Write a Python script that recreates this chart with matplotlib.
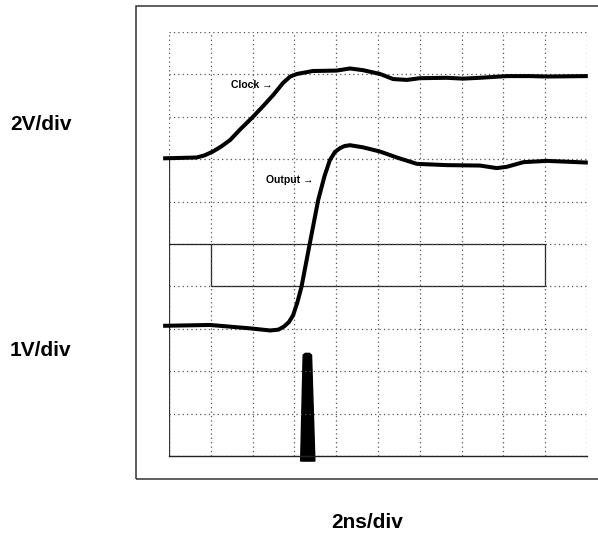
import matplotlib
matplotlib.use("Agg")
import matplotlib.pyplot as plt
from matplotlib.patches import Rectangle, Polygon

# traces, in divisions (10 x 10 graticule)
clock_x = [-0.14, 0.66, 0.85, 1.05, 1.25, 1.46, 1.70, 2.01, 2.25, 2.49, 2.73, 2.90, 3.06,
           3.44, 4.01, 4.33, 4.64, 5.05, 5.36, 5.69, 6.00, 6.64, 7.03, 7.44, 8.08, 8.64,
           9.04, 10.02]
clock_y = [7.02, 7.04, 7.09, 7.18, 7.30, 7.45, 7.70, 8.00, 8.25, 8.51, 8.80, 8.95, 9.01,
           9.08, 9.09, 9.14, 9.10, 9.01, 8.89, 8.87, 8.91, 8.92, 8.90, 8.92, 8.96, 8.96,
           8.95, 8.96]

output_x = [-0.14, 0.98, 1.94, 2.42, 2.62, 2.76, 2.87, 2.97, 3.07, 3.17, 3.37, 3.57,
            3.72, 3.85, 3.97, 4.09, 4.20, 4.33, 4.64, 5.05, 5.45, 5.93, 6.64, 7.44, 7.84,
            8.08, 8.48, 9.04, 10.02]
output_y = [3.07, 3.09, 3.01, 2.96, 2.98, 3.06, 3.16, 3.32, 3.62, 3.99, 5.02, 6.04,
            6.60, 6.98, 7.17, 7.26, 7.31, 7.33, 7.28, 7.18, 7.04, 6.89, 6.86, 6.85, 6.79,
            6.82, 6.93, 6.96, 6.92]

# trigger marker below the trace
marker_x = [3.15, 3.21, 3.26, 3.36, 3.41, 3.49]
marker_y = [-0.12, 2.38, 2.42, 2.42, 2.38, -0.12]

# reference box (divisions)
box_x = [1.0, 9.0]
box_y = [4.0, 5.0]

labels = ["Clock \u2192", "Output \u2192"]
label_x = [2.47, 3.45]
label_y = [8.75, 6.51]

fam = ['Liberation Sans', 'DejaVu Sans']


def plot_scope(out):
	fig = plt.figure(figsize=(5.98, 5.36), dpi=100)
	fig.patch.set_facecolor('white')

	# outer frame of the screen shot
	fig.patches.append(Rectangle((0.2274, 0.1063), 0.80, 0.8825, transform=fig.transFigure,
		fill=False, edgecolor='#333333', linewidth=1.1))

	ax = fig.add_axes([0.2826, 0.1493, 0.699, 0.791])
	ax.set_xlim(0, 10)
	ax.set_ylim(0, 10)
	ax.set_xticks(range(11))
	ax.set_yticks(range(11))
	ax.tick_params(length=0, labelbottom=False, labelleft=False)
	ax.grid(True, linestyle=(0, (1, 2.5)), color='#555555', linewidth=0.9)

	for s in ['top', 'right', 'left']:
		ax.spines[s].set_visible(False)
	ax.spines['bottom'].set_color('#222222')
	ax.spines['bottom'].set_linewidth(1.0)
	ax.plot([0, 0], [0, 7.0], color='#333333', linewidth=0.9)

	ax.add_patch(Rectangle((box_x[0], box_y[0]), box_x[1] - box_x[0], box_y[1] - box_y[0],
		fill=False, edgecolor='#222222', linewidth=0.9))
	ax.plot([0, box_x[0]], [box_y[1], box_y[1]], color='#222222', linewidth=0.9)

	ax.plot(clock_x, clock_y, color='black', linewidth=2.9, clip_on=False,
		solid_capstyle='butt', solid_joinstyle='round')
	ax.plot(output_x, output_y, color='black', linewidth=2.9, clip_on=False,
		solid_capstyle='butt', solid_joinstyle='round')

	ax.add_patch(Polygon(list(zip(marker_x, marker_y)), closed=True, facecolor='black',
		edgecolor='black', clip_on=False))

	for t, x, y in zip(labels, label_x, label_y):
		ax.text(x, y, t, ha='right', va='center', fontsize=7.5, fontweight='bold', family=fam)

	fig.text(0.0167, 0.7668, "2V/div", ha='left', va='center', fontsize=15, fontweight='bold', family=fam)
	fig.text(0.0167, 0.347, "1V/div", ha='left', va='center', fontsize=15, fontweight='bold', family=fam)
	fig.text(0.6145, 0.0243, "2ns/div", ha='center', va='center', fontsize=15, fontweight='bold', family=fam)

	fig.savefig(out, dpi=100)


def main():
	plot_scope("out.png")


if __name__ == '__main__':
	main()
